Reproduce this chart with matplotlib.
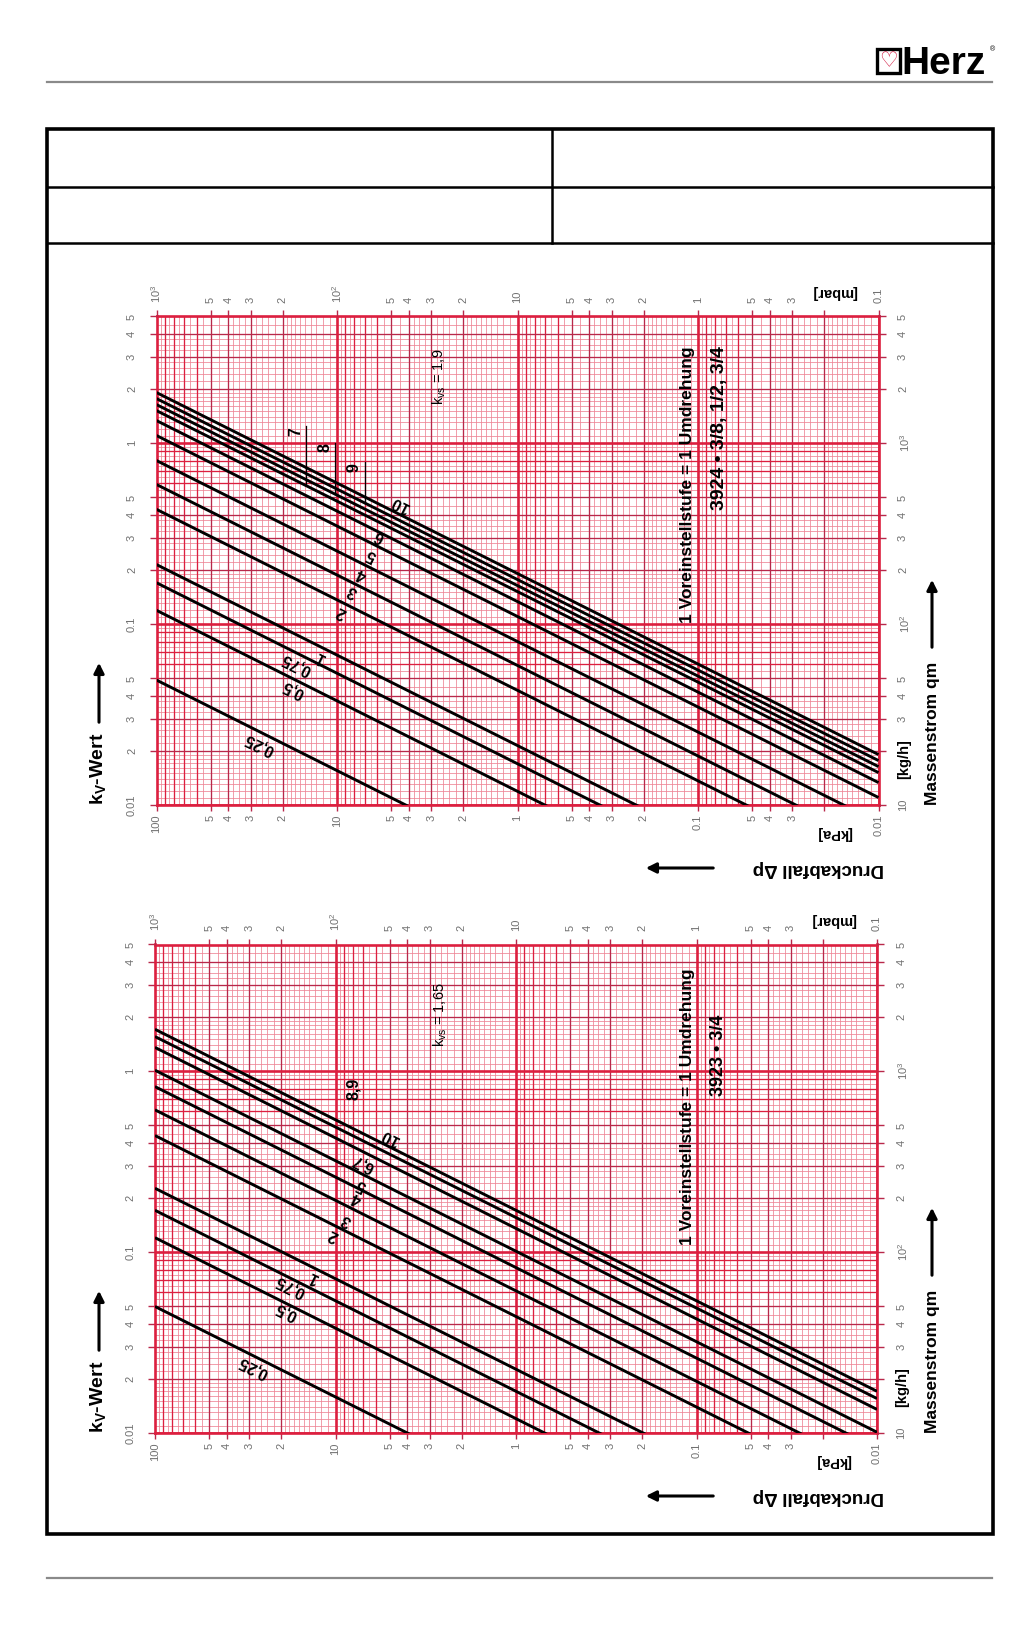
import numpy as np
import matplotlib
matplotlib.use('Agg')
import matplotlib.pyplot as plt
from matplotlib.patches import Rectangle, FancyArrowPatch
from matplotlib.lines import Line2D
from matplotlib.ticker import NullLocator
from matplotlib import transforms

plt.rcParams['font.family'] = ['Liberation Sans', 'DejaVu Sans']
plt.rcParams['mathtext.fontset'] = 'custom'
plt.rcParams['mathtext.rm'] = 'Liberation Sans'
plt.rcParams['mathtext.bf'] = 'Liberation Sans:bold'

# ---------------- data ----------------
settings_3924 = ['0,25', '0,5', '0,75', '1', '2', '3', '4', '5', '6', '7', '8', '9', '10']
kv_3924 = [0.049, 0.119, 0.169, 0.213, 0.43, 0.59, 0.80, 1.10, 1.33, 1.51, 1.63, 1.76, 1.90]
# label anchor positions (dp [kPa], kv)
lab_dp_3924 = [26.8, 17.5, 16.8, 12.5, 9.5, 8.15, 7.3, 6.45, 5.8, 16.8, 11.7, 8.0, 4.5]
lab_kv_3924 = [0.0216, 0.0435, 0.060, 0.066, 0.117, 0.152, 0.19, 0.242, 0.305, 1.16, 0.94, 0.73, 0.46]
leader_dp_3924 = {'7': 14.9, '8': 10.2, '9': 6.96}

settings_3923 = ['0,25', '0,5', '0,75', '1', '2', '3', '4', '5', '6,7', '8,9', '10']
kv_3923 = [0.05, 0.12, 0.17, 0.225, 0.44, 0.61, 0.82, 1.01, 1.35, 1.55, 1.70]
lab_dp_3923 = [28.6, 18.7, 17.9, 13.3, 10.3, 8.7, 7.66, 7.18, 7.03, 7.98, 4.97]
lab_kv_3923 = [0.0232, 0.0468, 0.0643, 0.073, 0.124, 0.150, 0.198, 0.2345, 0.309, 0.80, 0.434]

dp_ticks = [100, 50, 40, 30, 20, 10, 5, 4, 3, 2, 1, 0.5, 0.4, 0.3, 0.2, 0.1, 0.05, 0.04, 0.03, 0.02, 0.01]
dp_labels = ['100', '5', '4', '3', '2', '10', '5', '4', '3', '2', '1', '5', '4', '3', '2', '0.1', '5', '4', '3', '', '0.01']
mbar_ticks = [1000, 500, 400, 300, 200, 100, 50, 40, 30, 20, 10, 5, 4, 3, 2, 1, 0.5, 0.4, 0.3, 0.2, 0.1]
mbar_labels = ['$10^3$', '5', '4', '3', '2', '$10^2$', '5', '4', '3', '2', '10', '5', '4', '3', '2', '1', '5', '4', '3', '', '0.1']
kv_ticks = [0.01, 0.02, 0.03, 0.04, 0.05, 0.1, 0.2, 0.3, 0.4, 0.5, 1, 2, 3, 4, 5]
kv_labels = ['0.01', '2', '3', '4', '5', '0.1', '2', '3', '4', '5', '1', '2', '3', '4', '5']
qm_ticks = [10, 20, 30, 40, 50, 100, 200, 300, 400, 500, 1000, 2000, 3000, 4000, 5000]
qm_labels = ['10', '', '3', '4', '5', '$10^2$', '2', '3', '4', '5', '$10^3$', '2', '3', '4', '5']

# ---------------- figure ----------------
W, H = 1024, 1625
fig = plt.figure(figsize=(W / 100, H / 100), dpi=100)


def fx(x):
    return x / W


def fy(y):
    return 1 - y / H


def hline(y, x1, x2, **kw):
    fig.add_artist(Line2D([fx(x1), fx(x2)], [fy(y), fy(y)], transform=fig.transFigure, **kw))


def vline(x, y1, y2, **kw):
    fig.add_artist(Line2D([fx(x), fx(x)], [fy(y1), fy(y2)], transform=fig.transFigure, **kw))


def arrow(x1, y1, x2, y2):
    fig.add_artist(FancyArrowPatch((fx(x1), fy(y1)), (fx(x2), fy(y2)),
                                   transform=fig.transFigure, arrowstyle='-|>',
                                   mutation_scale=15, lw=2.2, color='black'))


# header
hline(82, 47, 992, color='#8a8a8a', lw=1.6)
hline(1578, 47, 992, color='#8a8a8a', lw=1.6)
fig.add_artist(Rectangle((fx(877), fy(73)), 23 / W, 24 / H, transform=fig.transFigure,
                         fill=False, ec='black', lw=2.4))
fig.text(fx(888.5), fy(61), '♡', color='#d0103a', fontsize=15, fontweight='bold',
         ha='center', va='center', family=['DejaVu Sans'])
fig.text(fx(901), fy(74), 'Herz', fontsize=28, fontweight='bold', ha='left', va='baseline',
         color='black')
fig.text(fx(993), fy(50), '®', fontsize=5, ha='center', va='center')

# frame box
fig.add_artist(Rectangle((fx(47), fy(1534)), (993 - 47) / W, (1534 - 129) / H,
                         transform=fig.transFigure, fill=False, ec='black', lw=2.6))
hline(187, 47, 993, color='black', lw=1.8)
hline(243, 47, 993, color='black', lw=1.8)
vline(552, 129, 243, color='black', lw=1.8)

RED = '#dc1f3f'
MED = '#b8284a'
FINE = '#ee8494'
TXT = '#707070'


def draw_grid(ax, lo, hi, axis):
    line = ax.axvline if axis == 'x' else ax.axhline
    fine = [1.1, 1.2, 1.3, 1.4, 1.5, 1.6, 1.7, 1.8, 1.9, 2.2, 2.4, 2.6, 2.8,
            3.25, 3.5, 3.75, 4.5, 5.5, 6.5, 7.5, 8.5, 9.5]
    for k in range(lo, hi + 1):
        d = 10.0 ** k
        line(d, color=RED, lw=1.9, zorder=1.2)
        for m in range(2, 10):
            line(m * d, color=MED if m <= 5 else RED, lw=0.95, zorder=1.1)
        for m in fine:
            line(m * d, color=FINE, lw=0.55, zorder=1.0)


def style_ticks(axis_obj, ticks, labels):
    axis_obj.set_ticks(ticks)
    axis_obj.set_ticklabels(labels)
    axis_obj.set_minor_locator(NullLocator())


def chart(l, t, r, b, kvs, names, lab_dp, lab_kv, leaders, kvs_text, txt_top_kv,
          type_text, type_dp, type_kv, type_fs):
    ax = fig.add_axes([fx(l), fy(b), (r - l) / W, (b - t) / H])
    ax.set_xscale('log')
    ax.set_yscale('log')
    ax.set_xlim(100, 0.01)
    ax.set_ylim(0.01, 5)
    draw_grid(ax, -2, 1, 'x')
    draw_grid(ax, -2, 0, 'y')
    for sp in ax.spines.values():
        sp.set_color(RED)
        sp.set_linewidth(1.9)
        sp.set_zorder(2)

    dp = np.logspace(2, -2, 300)
    for kv in kvs:
        ax.plot(dp, kv * np.sqrt(dp / 100.0), color='black', lw=2.1, zorder=3,
                solid_capstyle='butt')

    for name, x, y in zip(names, lab_dp, lab_kv):
        rot = 90 if (name in leaders or name == '8,9') else 153.4
        ax.text(x, y, name, rotation=rot, fontsize=11.5, fontweight='bold', ha='center',
                va='center', rotation_mode='anchor', zorder=4)
    for name, ldp in leaders.items():
        kv = kvs[names.index(name)]
        ytop = lab_kv[names.index(name)] * 1.07
        ax.plot([ldp, ldp], [ytop, kv * np.sqrt(ldp / 100.0)], color='black', lw=0.9, zorder=3)

    ax.text(kvs_text[0], kvs_text[1], kvs_text[2], rotation=90, fontsize=10.5,
            ha='center', va='center', zorder=4)
    ax.text(type_dp[0], txt_top_kv, '1 Voreinstellstufe = 1 Umdrehung', rotation=90,
            fontsize=12.5, fontweight='bold', ha='center', va='top', zorder=4)
    ax.text(type_dp[1], type_kv, type_text, rotation=90,
            fontsize=type_fs, fontweight='bold', ha='center', va='top', zorder=4)

    # bottom (kPa) and left (kv)
    style_ticks(ax.xaxis, dp_ticks, dp_labels)
    style_ticks(ax.yaxis, kv_ticks, kv_labels)
    ax.tick_params(axis='x', direction='out', length=4, width=1, color=MED, pad=3,
                   labelsize=8, labelcolor=TXT, labelrotation=90)
    ax.tick_params(axis='y', direction='out', length=5, width=1, color=MED, pad=9,
                   labelsize=8, labelcolor=TXT, labelrotation=90)
    for lbl in ax.get_yticklabels():
        lbl.set_va('center')

    top = ax.twiny()
    top.set_xscale('log')
    top.set_xlim(1000, 0.1)
    style_ticks(top.xaxis, mbar_ticks, mbar_labels)
    top.tick_params(axis='x', direction='out', length=4, width=1, color=MED, pad=6,
                    labelsize=8, labelcolor=TXT, labelrotation=90)
    right = ax.twinx()
    right.set_yscale('log')
    right.set_ylim(10, 5000)
    style_ticks(right.yaxis, qm_ticks, qm_labels)
    right.tick_params(axis='y', direction='out', length=5, width=1, color=MED, pad=9,
                      labelsize=8, labelcolor=TXT, labelrotation=90)
    for lbl in right.get_yticklabels():
        lbl.set_va('center')
    for a in (top, right):
        for sp in a.spines.values():
            sp.set_visible(False)

    # unit labels
    ax.text(0.0175, -0.058, '[kPa]', transform=transforms.blended_transform_factory(
        ax.transData, ax.transAxes), rotation=180, fontsize=10.5, fontweight='bold',
        ha='center', va='center')
    top.text(0.175, 1.05, '[mbar]', transform=transforms.blended_transform_factory(
        top.transData, top.transAxes), rotation=180, fontsize=10.5, fontweight='bold',
        ha='center', va='center')
    right.text(1.035, 18, '[kg/h]', transform=transforms.blended_transform_factory(
        right.transAxes, right.transData), rotation=90, fontsize=10.5, fontweight='bold',
        ha='center', va='center')

    # axis titles
    fig.text(fx(99), fy(b), r'k$_{\mathbf{V}}$-Wert', rotation=90, fontsize=14,
             fontweight='bold', ha='center', va='bottom')
    arrow(99, b - 80, 99, b - 145)
    fig.text(fx(932), fy(b), 'Massenstrom qm', rotation=90, fontsize=12.5,
             fontweight='bold', ha='center', va='bottom')
    arrow(932, b - 155, 932, b - 228)
    fig.text(fx(884), fy(b + 63), 'Druckabfall Δp', rotation=180, fontsize=13.5,
             fontweight='bold', ha='right', va='center')
    arrow(716, b + 63, 643, b + 63)
    return ax


chart(156.5, 316.5, 878.5, 805, kv_3924, settings_3924, lab_dp_3924, lab_kv_3924,
      leader_dp_3924, (2.7, 2.33, r'k$_{\mathrm{vs}}$ = 1,9'), 3.42,
      '3924 • 3/8, 1/2, 3/4', (0.114, 0.0759), 3.42, 14)

chart(155, 944.5, 877, 1433, kv_3923, settings_3923, lab_dp_3923, lab_kv_3923,
      {}, (2.64, 2.04, r'k$_{\mathrm{vs}}$ = 1,65'), 3.7,
      '3923 • 3/4', (0.112, 0.0753), 2.04, 13)

fig.savefig('out.png', dpi=100)
